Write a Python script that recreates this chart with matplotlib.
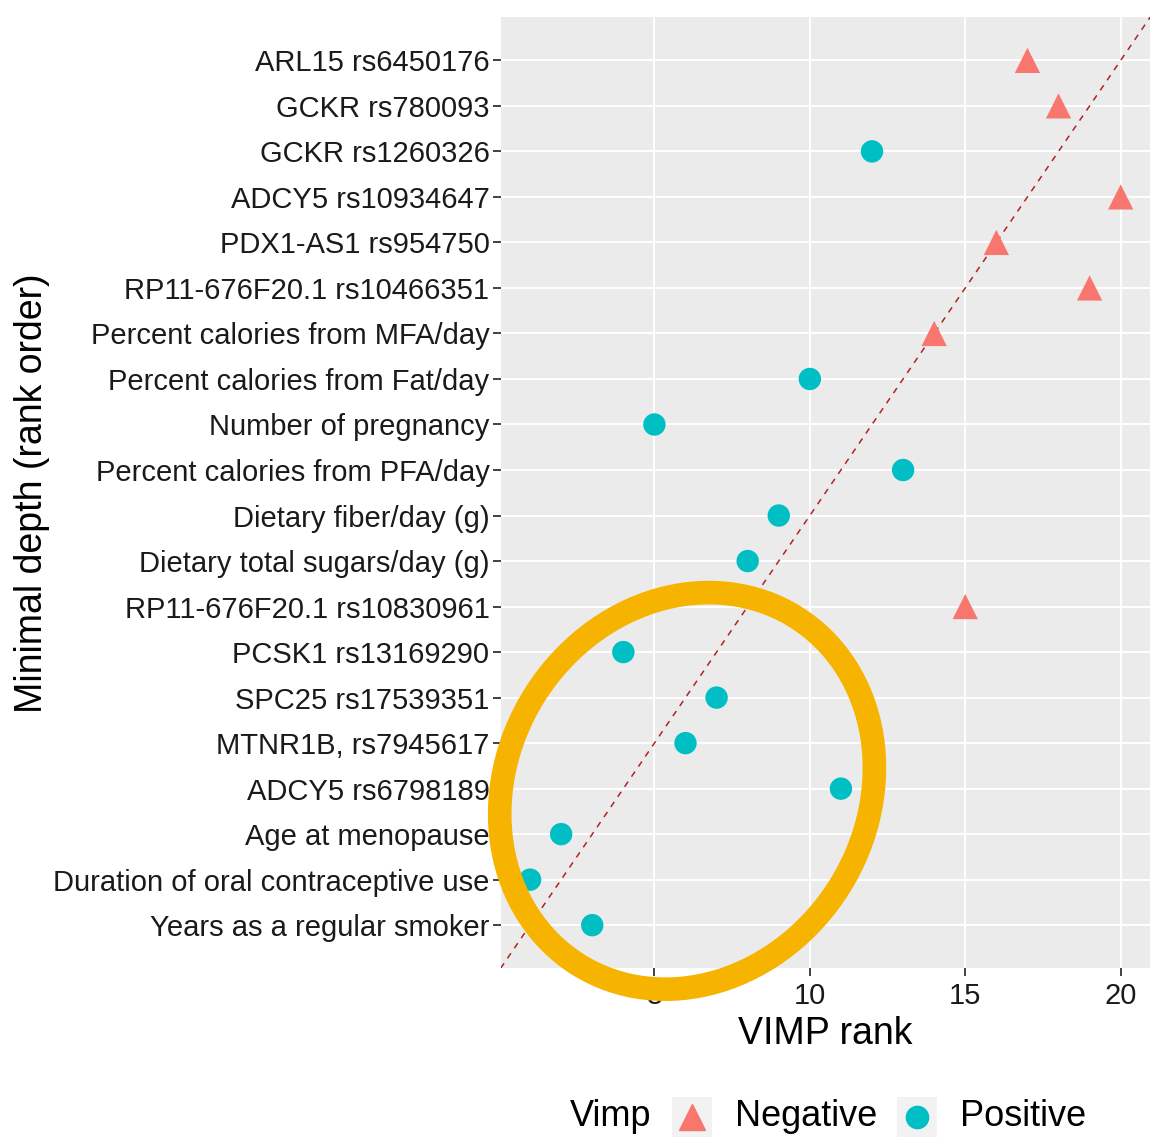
import matplotlib.pyplot as plt
import matplotlib.transforms as mtransforms
from matplotlib.patches import Ellipse, Rectangle
from matplotlib.lines import Line2D

plt.rcParams['font.family'] = ['Liberation Sans', 'DejaVu Sans']

# Variables, bottom (rank 1) to top (rank 20)
labels = [
    'Years as a regular smoker',
    'Duration of oral contraceptive use',
    'Age at menopause',
    'ADCY5 rs6798189',
    'MTNR1B, rs7945617',
    'SPC25 rs17539351',
    'PCSK1 rs13169290',
    'RP11-676F20.1 rs10830961',
    'Dietary total sugars/day (g)',
    'Dietary fiber/day (g)',
    'Percent calories from PFA/day',
    'Number of pregnancy',
    'Percent calories from Fat/day',
    'Percent calories from MFA/day',
    'RP11-676F20.1 rs10466351',
    'PDX1-AS1 rs954750',
    'ADCY5 rs10934647',
    'GCKR rs1260326',
    'GCKR rs780093',
    'ARL15 rs6450176',
]
depth_rank = list(range(1, 21))
vimp_rank = [3, 1, 2, 11, 6, 7, 4, 15, 8, 9, 13, 5, 10, 14, 19, 16, 20, 12, 18, 17]
vimp_sign = ['Positive', 'Positive', 'Positive', 'Positive', 'Positive', 'Positive', 'Positive',
             'Negative', 'Positive', 'Positive', 'Positive', 'Positive', 'Positive', 'Negative',
             'Negative', 'Negative', 'Negative', 'Positive', 'Negative', 'Negative']
x_ticks = [5, 10, 15, 20]

neg_col = '#F8766D'
pos_col = '#00BFC4'
ring_col = '#F6B400'

W, H = 1156, 1142
fig = plt.figure(figsize=(W / 100, H / 100), dpi=100)
ax = fig.add_axes([0.433, 0.152, 0.562, 0.833])
ax.set_facecolor('#EBEBEB')

ax.set_xlim(0.05, 20.95)
ax.set_ylim(0.05, 20.95)
ax.set_xticks(x_ticks)
ax.set_yticks(depth_rank)
ax.set_yticklabels(labels)
ax.grid(True, color='white', linewidth=1.4)
ax.set_axisbelow(True)
for s in ax.spines.values():
    s.set_visible(False)
ax.tick_params(axis='both', length=6, width=1.3, color='#333333', labelsize=21,
               labelcolor='#1a1a1a')
ax.tick_params(axis='y', pad=2)
ax.tick_params(axis='x', pad=4)

# 1:1 reference line
ax.plot([0.05, 20.95], [0.05, 20.95], color='#B22222', linestyle=(0, (4, 4)),
        linewidth=1.1, zorder=2)

for xv, yv, sg in zip(vimp_rank, depth_rank, vimp_sign):
    if sg == 'Negative':
        ax.scatter(xv, yv, marker='^', s=330, color=neg_col, edgecolors='none', zorder=3)
    else:
        ax.scatter(xv, yv, marker='o', s=260, color=pos_col, edgecolors='none', zorder=3)

ax.set_xlabel('VIMP rank', fontsize=27, labelpad=4)
ax.set_ylabel('Minimal depth (rank order)', fontsize=27)
ax.yaxis.set_label_coords(-0.694, 0.5)

# hand-drawn highlight ring: centred in data units, sized in inches
ring_tr = fig.dpi_scale_trans + mtransforms.ScaledTranslation(6.05, 3.95, ax.transData)
ring = Ellipse((0, 0), 4.1, 3.6, angle=58, fill=False, edgecolor=ring_col,
               linewidth=17, clip_on=False, zorder=10, transform=ring_tr)
ax.add_patch(ring)

# legend at the bottom, laid out by hand (ggplot style: title left of keys)
ly = 1 - 1117 / H
fig.text(570 / W, ly, 'Vimp', fontsize=26, ha='left', va='center')
for cx, mk, ms, col, txt, tx in [(692, '^', 19, neg_col, 'Negative', 735),
                                  (917, 'o', 16, pos_col, 'Positive', 960)]:
    fig.add_artist(Rectangle(((cx - 20) / W, ly - 20 / H), 40 / W, 40 / H,
                             transform=fig.transFigure, facecolor='#F2F2F2',
                             edgecolor='none'))
    fig.add_artist(Line2D([cx / W], [ly], marker=mk, markersize=ms, color=col,
                          linestyle='none', transform=fig.transFigure))
    fig.text(tx / W, ly, txt, fontsize=26, ha='left', va='center')

fig.savefig('out.png', dpi=100)
